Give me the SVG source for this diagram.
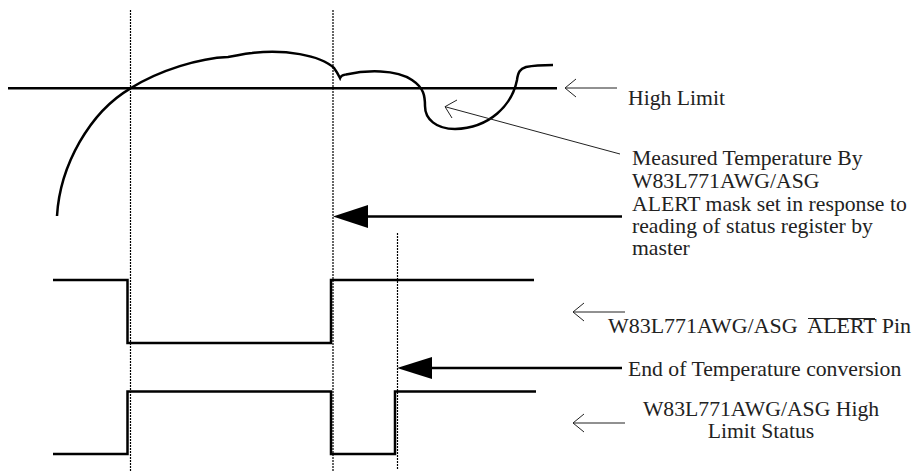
<svg xmlns="http://www.w3.org/2000/svg" width="914" height="472" viewBox="0 0 914 472">
<style>
.t{font-family:"Liberation Serif","Times New Roman",serif;font-size:21.7px;fill:#222}
.thick{stroke:#000;stroke-width:2.5;fill:none}
.guide{stroke:#000;stroke-width:1.2;stroke-dasharray:2 1;fill:none}
.thin{stroke:#222;stroke-width:1;fill:none}
.bar{stroke:#000;stroke-width:2.5;fill:none}
.head{fill:#000;stroke:none}
.over{stroke:#222;stroke-width:1.2}
</style>
<rect width="914" height="472" fill="#fff"/>
<g id="guides">
<line class="guide" x1="130.5" y1="10" x2="130.5" y2="472"/>
<line class="guide" x1="333" y1="10" x2="333" y2="472"/>
<line class="guide" x1="397.5" y1="233" x2="397.5" y2="470"/>
</g>
<g id="high-limit-line">
<line class="thick" x1="8" y1="88.3" x2="557" y2="88.3"/>
</g>
<g id="measured-temperature">
<path class="thick" d="M57,216 C60,165 90,112 130.5,88.3 C160,70 200,58 228,57 C236,56 242,54 252,53 C284,49 320,55 334,68 C337,72 339,76 340,78 C341,75 343,75 346,74.5 C366,70 396,69 412,80 C424,88 425,96 425,106 C425,119 436,129 455,129 C490,128 512,105 517,80 C518,72 520,69 526,67 C536,65 545,65 553,65"/>
</g>
<g id="alert-pin-signal">
<path class="thick" d="M53,280 H127.5 V343 H331 V280 H534"/>
</g>
<g id="high-limit-status-signal">
<path class="thick" d="M53,454 H127.5 V391.5 H331 V454 H395 V391.5 H536"/>
</g>
<g id="connectors">
<line class="thin" x1="565" y1="88" x2="617" y2="88"/>
<polyline class="thin" points="576,79 565,88 576,97"/>
<line class="thin" x1="445" y1="106.7" x2="620" y2="154"/>
<polyline class="thin" points="457,100 445,106.7 452,118"/>
<line class="bar" x1="366" y1="216.5" x2="622" y2="216.5"/>
<polygon class="head" points="333,216.5 368,205 368,228"/>
<line class="thin" x1="573" y1="312" x2="625" y2="312"/>
<polyline class="thin" points="584,303 573,312 584,321"/>
<line class="bar" x1="430" y1="368" x2="622" y2="368"/>
<polygon class="head" points="397,368 432,357 432,379"/>
<line class="thin" x1="573" y1="423" x2="625" y2="423"/>
<polyline class="thin" points="584,414 573,423 584,432"/>
</g>
<g id="label-high-limit">
<text class="t" x="628" y="105">High Limit</text>
</g>
<g id="label-measured">
<text class="t" x="632" y="165">Measured Temperature By</text>
<text class="t" x="632" y="188">W83L771AWG/ASG</text>
</g>
<g id="label-alert-mask">
<text class="t" x="632" y="211">ALERT mask set in response to</text>
<text class="t" x="632" y="233">reading of status register by</text>
<text class="t" x="632" y="255">master</text>
</g>
<g id="label-alert-pin">
<text class="t" x="608" y="333" xml:space="preserve" textLength="303" lengthAdjust="spacingAndGlyphs">W83L771AWG/ASG  ALERT Pin</text>
<line class="over" x1="808" y1="318.5" x2="875" y2="318.5"/>
</g>
<g id="label-end-conversion">
<text class="t" x="628" y="376">End of Temperature conversion</text>
</g>
<g id="label-high-limit-status">
<text class="t" x="761" y="416" text-anchor="middle">W83L771AWG/ASG High</text>
<text class="t" x="761" y="438" text-anchor="middle">Limit Status</text>
</g>
</svg>
